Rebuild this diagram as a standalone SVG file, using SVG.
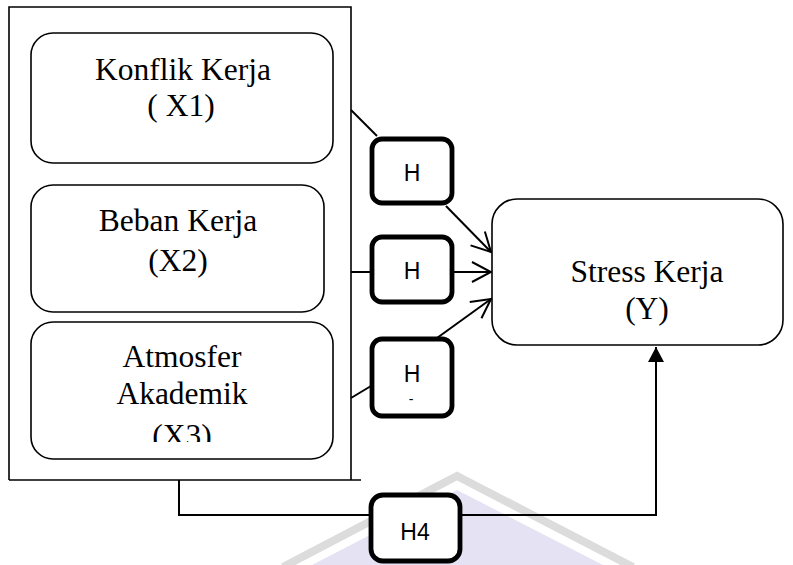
<svg xmlns="http://www.w3.org/2000/svg" width="793" height="565" viewBox="0 0 793 565">
<style>
.box{fill:#fff;stroke:#000;stroke-width:1.6}
.hbox{fill:#fff;stroke:#000;stroke-width:4.8}
.t{font-family:"Liberation Serif","Times New Roman",serif;font-size:31.5px;fill:#000;text-anchor:middle}
.h{font-family:"Liberation Sans",Arial,sans-serif;font-size:23px;fill:#000;text-anchor:middle}
.c{fill:none;stroke:#000;stroke-width:2}
.thin{fill:none;stroke:#000;stroke-width:1.6}
</style>
<defs>
<marker id="open" markerUnits="userSpaceOnUse" markerWidth="24" markerHeight="24" refX="0" refY="0" viewBox="-22 -12 24 24" orient="auto">
<path d="M-19,-10 L0,0 L-19,10" fill="none" stroke="#000" stroke-width="2"/>
</marker>
<marker id="solid" markerUnits="userSpaceOnUse" markerWidth="18" markerHeight="18" refX="0" refY="0" viewBox="-16 -9 18 18" orient="auto">
<path d="M-15,-8 L0,0 L-15,8 Z" fill="#000"/>
</marker>
<clipPath id="clipx3"><rect x="31" y="322" width="302" height="120"/></clipPath>
</defs>
<rect width="793" height="565" fill="#fff"/>
<g id="watermark">
<polygon points="312,565 457,490 603,565" fill="#e4e2f3"/>
<polyline points="283,567 457,476 633,567" fill="none" stroke="#dcdcdc" stroke-width="8"/>
</g>
<g id="container">
<path class="thin" d="M9,480 L9,7 L351,7 L351,480 M9,480 L361,480"/>
</g>
<g id="connectors">
<line class="c" x1="351" y1="110" x2="377" y2="136"/>
<line class="c" x1="446" y1="206" x2="491" y2="252" marker-end="url(#open)"/>
<line class="c" x1="351" y1="272" x2="370" y2="272"/>
<line class="c" x1="454" y1="272" x2="491" y2="272" marker-end="url(#open)"/>
<line class="c" x1="351" y1="398" x2="371" y2="386"/>
<line class="c" x1="437" y1="338" x2="491" y2="299" marker-end="url(#open)"/>
<polyline class="c" points="179,480 179,515 369,515"/>
<polyline class="c" points="462,515 656,515 656,347" marker-end="url(#solid)"/>
</g>
<g id="x1">
<rect class="box" x="31" y="33" width="302" height="130" rx="22"/>
<text class="t" x="183" y="80">Konflik Kerja</text>
<text class="t" x="181" y="116">( X1)</text>
</g>
<g id="x2">
<rect class="box" x="31" y="185" width="293" height="127" rx="22"/>
<text class="t" x="178" y="231">Beban Kerja</text>
<text class="t" x="178" y="271">(X2)</text>
</g>
<g id="x3">
<rect class="box" x="31" y="322" width="302" height="137" rx="22"/>
<text class="t" x="182" y="367">Atmosfer</text>
<text class="t" x="182" y="404">Akademik</text>
<text class="t" x="182" y="446" clip-path="url(#clipx3)">(X3)</text>
</g>
<g id="y">
<rect class="box" x="492" y="199" width="291" height="146" rx="25"/>
<text class="t" x="647" y="282">Stress Kerja</text>
<text class="t" x="647" y="319">(Y)</text>
</g>
<g id="h1">
<rect class="hbox" x="372" y="139" width="80" height="64" rx="10"/>
<text class="h" x="412" y="181">H</text>
</g>
<g id="h2">
<rect class="hbox" x="372" y="237" width="80" height="65" rx="10"/>
<text class="h" x="412" y="279">H</text>
</g>
<g id="h3">
<rect class="hbox" x="372" y="339" width="80" height="77" rx="10"/>
<text class="h" x="412" y="382">H</text>
<text class="h" x="411" y="404" style="font-size:14px">-</text>
</g>
<g id="h4">
<rect class="hbox" x="371" y="495" width="89" height="66" rx="12"/>
<text class="h" x="415" y="540">H4</text>
</g>
</svg>
